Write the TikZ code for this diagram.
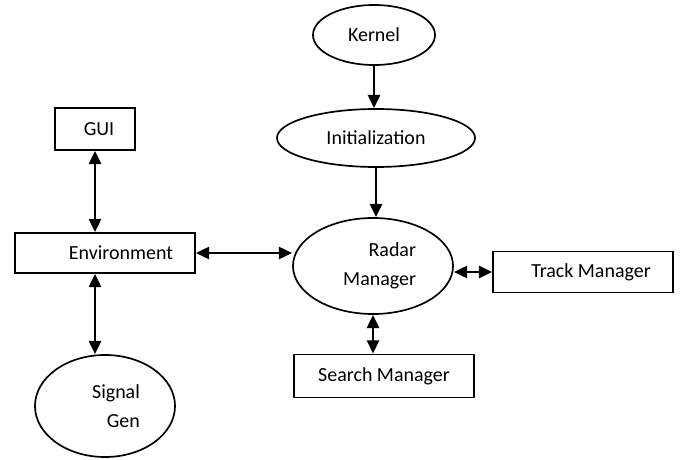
\documentclass[tikz,border=0pt]{standalone}
\usepackage{fontspec}
\setmainfont{Carlito}
\usepackage{tikz}
\usetikzlibrary{shapes}
\usetikzlibrary{arrows.meta}
\tikzset{blob/.style={ellipse, draw, line width=1.2pt, inner sep=0pt, align=right},
  box/.style={rectangle, draw, line width=1.2pt, inner sep=0pt},
  link/.style={line width=1.8pt, {Triangle[length=0.33cm,width=0.3cm]}-{Triangle[length=0.33cm,width=0.3cm]}},
  flow/.style={line width=1.8pt, -{Triangle[length=0.33cm,width=0.3cm]}}}

\begin{document}
\begin{tikzpicture}[x=0.025cm,y=-0.025cm,font=\fontsize{14.2}{20.6}\selectfont]
  \useasboundingbox (0,0) rectangle (681,459);
  % ellipses
  \node[blob, minimum width=3.05cm, minimum height=1.5cm] (kernel) at (374,35) {Kernel};
  \node[blob, minimum width=4.95cm, minimum height=1.45cm] (init) at (376,138) {Initialization};
  \node[blob, minimum width=4cm, minimum height=2.4cm] (radar) at (373,266) {Radar\\\hspace*{0.33cm}Manager};
  \node[blob, minimum width=3.5cm, minimum height=2.55cm] (signal) at (105,406) {\hspace*{0.55cm}Signal\\Gen};
  % boxes
  \node[box, minimum width=2cm, minimum height=1.05cm] (gui) at (95,129) {\hspace*{0.2cm}GUI};
  \node[box, minimum width=4.5cm, minimum height=1cm] (env) at (105,253) {\hspace*{0.8cm}Environment};
  \node[box, minimum width=4.5cm, minimum height=1.03cm] (track) at (583,272) {\hspace*{0.4cm}Track Manager};
  \node[box, minimum width=4.5cm, minimum height=1.08cm] (search) at (384,376) {Search Manager};
  % connectors
  \draw[flow] (kernel.south) -- (kernel.south |- init.north);
  \draw[flow] (init.south) -- (init.south |- radar.north);
  \draw[link] (gui.south) -- (gui.south |- env.north);
  \draw[link] (env.south -| gui.south) -- (signal.north -| gui.south);
  \draw[link] (env.east) -- (env.east -| radar.west);
  \draw[link] (radar.east |- track.west) -- (track.west);
  \draw[link] (radar.south) -- (radar.south |- search.north);
\end{tikzpicture}
\end{document}
